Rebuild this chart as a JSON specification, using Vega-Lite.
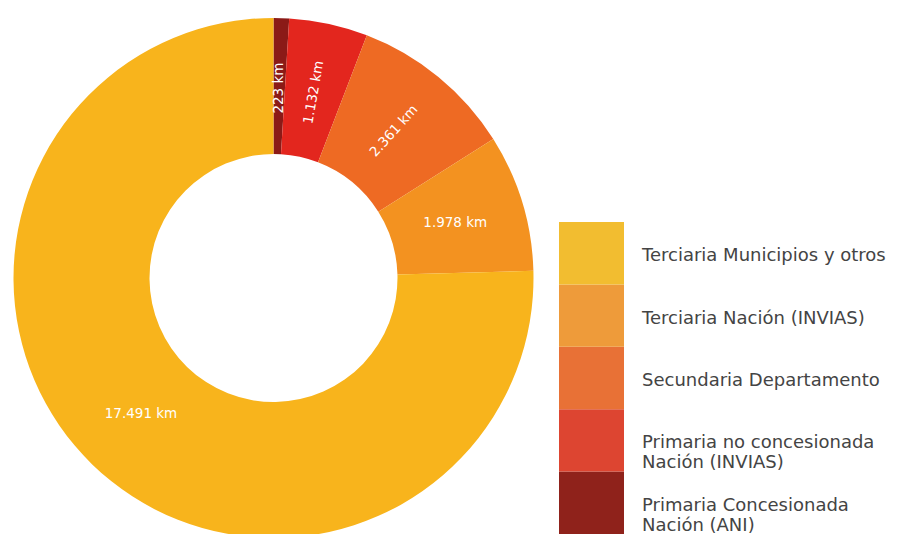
{
  "$schema": "https://vega.github.io/schema/vega-lite/v6.json",
  "padding": 0,
  "spacing": 0,
  "background": "white",
  "config": {"view": {"stroke": null}, "font": "DejaVu Sans"},
  "resolve": {"scale": {"color": "independent"}},
  "datasets": {
    "vias": [
      {"orden": 1, "categoria": "Primaria Concesionada\nNación (ANI)", "km": 223},
      {"orden": 2, "categoria": "Primaria no concesionada\nNación (INVIAS)", "km": 1132},
      {"orden": 3, "categoria": "Secundaria Departamento", "km": 2361},
      {"orden": 4, "categoria": "Terciaria Nación (INVIAS)", "km": 1978},
      {"orden": 5, "categoria": "Terciaria Municipios y otros", "km": 17491}
    ]
  },
  "hconcat": [
    {
      "width": 559,
      "height": 534,
      "data": {"name": "vias"},
      "transform": [
        {"calculate": "replace(format(datum.km, ','), ',', '.') + ' km'", "as": "rotulo"}
      ],
      "encoding": {
        "theta": {"field": "km", "type": "quantitative", "stack": true},
        "order": {"field": "orden", "type": "quantitative"}
      },
      "layer": [
        {
          "mark": {"type": "arc", "outerRadius": 260, "innerRadius": 124, "xOffset": -6, "yOffset": 11},
          "encoding": {
            "color": {
              "field": "categoria",
              "type": "nominal",
              "scale": {
                "domain": ["Primaria Concesionada\nNación (ANI)", "Primaria no concesionada\nNación (INVIAS)", "Secundaria Departamento", "Terciaria Nación (INVIAS)", "Terciaria Municipios y otros"],
                "range": ["#8B1A17", "#E3261E", "#EE6A23", "#F39220", "#F8B41C"]
              },
              "legend": null
            }
          }
        },
        {
          "mark": {"type": "text", "radius": 190, "xOffset": -6, "yOffset": 11, "color": "white", "fontSize": 13.5, "align": "center", "baseline": "middle"},
          "encoding": {
            "text": {"field": "rotulo", "type": "nominal"},
            "angle": {
              "condition": [
                {"test": "datum.orden == 1", "value": 270},
                {"test": "datum.orden == 2", "value": 280},
                {"test": "datum.orden == 3", "value": 312}
              ],
              "value": 0
            }
          }
        }
      ]
    },
    {
      "width": 351,
      "height": 534,
      "data": {"name": "vias"},
      "encoding": {
        "y": {
          "field": "categoria",
          "type": "nominal",
          "sort": ["Terciaria Municipios y otros", "Terciaria Nación (INVIAS)", "Secundaria Departamento", "Primaria no concesionada\nNación (INVIAS)", "Primaria Concesionada\nNación (ANI)"],
          "scale": {"range": [222, 534], "paddingInner": 0, "paddingOuter": 0},
          "axis": null
        }
      },
      "layer": [
        {
          "mark": {"type": "rect"},
          "encoding": {
            "x": {"value": 0},
            "x2": {"value": 65},
            "color": {
              "field": "categoria",
              "type": "nominal",
              "scale": {
                "domain": ["Terciaria Municipios y otros", "Terciaria Nación (INVIAS)", "Secundaria Departamento", "Primaria no concesionada\nNación (INVIAS)", "Primaria Concesionada\nNación (ANI)"],
                "range": ["#F2BD30", "#EE9B3A", "#E87136", "#DD4531", "#8F221B"]
              },
              "legend": null
            }
          }
        },
        {
          "mark": {"type": "text", "align": "left", "baseline": "middle", "lineBreak": "\n", "lineHeight": 20, "fontSize": 18, "color": "#444444", "dy": 3},
          "encoding": {
            "x": {"value": 83},
            "text": {"field": "categoria", "type": "nominal"}
          }
        }
      ]
    }
  ]
}
